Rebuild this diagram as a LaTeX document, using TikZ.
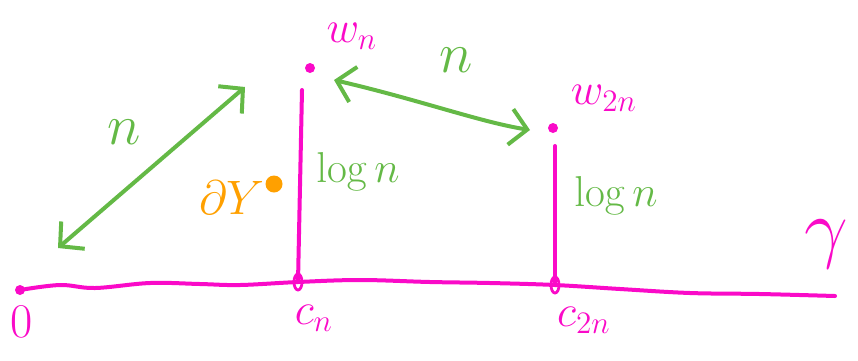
\documentclass[tikz,border=0pt]{standalone}
\usepackage{amsmath,amssymb}
\usepackage{graphicx}
\usepackage{xcolor}
\usepackage{tikz}
\usetikzlibrary{arrows.meta,positioning,calc,shapes.geometric}

\definecolor{mag}{RGB}{250,10,200}
\definecolor{grn}{RGB}{100,185,70}
\definecolor{org}{RGB}{255,160,0}
\newcommand{\bigmath}[2]{\scalebox{#1}{$#2$}}

\begin{document}
\begin{tikzpicture}[
  x=1pt, y=-1pt,
  curve/.style={draw=mag, line width=4pt, line cap=round},
  pt/.style={circle, fill=mag, inner sep=0pt, minimum size=10pt},
  tickmark/.style={ellipse, draw=mag, line width=2.8pt, inner sep=0pt, minimum width=8pt, minimum height=16pt},
  mlab/.style={text=mag, font=\fontsize{17.28}{20}\selectfont},
  glab/.style={text=grn, font=\fontsize{17.28}{20}\selectfont},
  dist/.style={draw=grn, line width=4pt, line cap=round,
    {Straight Barb[length=17pt,width=36pt,line width=4pt]}-{Straight Barb[length=17pt,width=36pt,line width=4pt]}}
]
  \useasboundingbox (0,0) rectangle (858,360);

  % the curve gamma and its marked points
  \coordinate (o) at (20,290);
  \coordinate (cn) at (298,282);
  \coordinate (c2n) at (555,285);
  \coordinate (e) at (835,296);
  \draw[curve] plot[smooth, tension=0.6] coordinates {(o) (60,285) (95,288) (150,283) (200,284) (240,285) (cn) (360,280) (430,282) (490,283) (c2n) (620,289) (690,293) (760,294) (e)};
  \node[pt] (odot) at (o) {};
  \node[tickmark] (cntick) at (cn) {};
  \node[tickmark] (c2ntick) at (c2n) {};

  % the points above
  \node[pt] (wn) at (310,68) {};
  \node[pt] (w2n) at (553,128) {};
  \coordinate (wnfoot) at (302,90);
  \coordinate (w2nfoot) at (555,146);
  \draw[curve] (wnfoot) -- (cn);
  \draw[curve] (w2nfoot) -- (c2n);

  % labels
  \node[mlab] (olab) at (22,322) {\bigmath{2.8}{0}};
  \node[mlab] (cnlab) at (314,318) {\bigmath{2.6}{c_n}};
  \node[mlab] (c2nlab) at (584,320) {\bigmath{2.6}{c_{2n}}};
  \node[mlab] (wnlab) at (352,36) {\bigmath{2.6}{w_n}};
  \node[mlab] (w2nlab) at (604,98) {\bigmath{2.6}{w_{2n}}};
  \node[mlab] (gam) at (826,244) {\bigmath{4.5}{\gamma}};

  % distances
  \coordinate (a1) at (58,248);
  \coordinate (a2) at (245,87);
  \draw[dist] (a1) -- (a2);
  \node[glab] (n1) at (124,132) {\bigmath{3.3}{n}};
  \coordinate (b1) at (334,80);
  \coordinate (b2) at (530,130);
  \draw[dist] (b1) .. controls (420,100) and (480,122) .. (b2);
  \node[glab] (n2) at (456,60) {\bigmath{3.3}{n}};
  \node[glab] (lg1) at (358,172) {\bigmath{2.5}{\log n}};
  \node[glab] (lg2) at (616,196) {\bigmath{2.5}{\log n}};

  % boundary point
  \node[circle, fill=org, inner sep=0pt, minimum size=17pt] (dy) at (274,184) {};
  \node[text=org, font=\fontsize{17.28}{20}\selectfont] (dylab) at (232,198) {\bigmath{2.8}{\partial Y}};
\end{tikzpicture}
\end{document}
